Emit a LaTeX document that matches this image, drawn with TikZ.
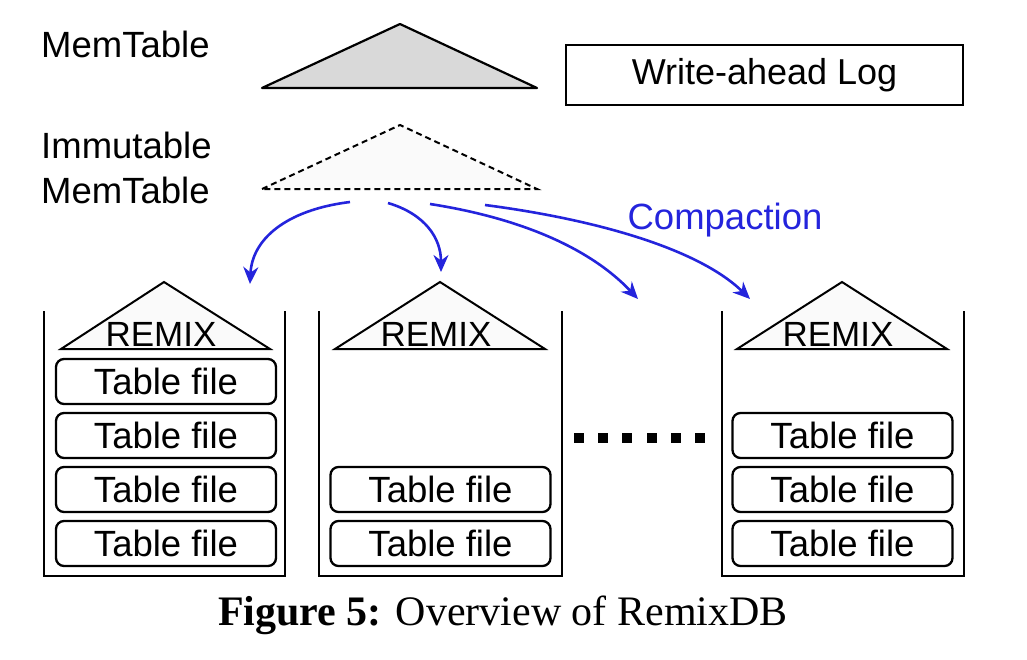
\documentclass[tikz,border=0pt]{standalone}
\usepackage{fontspec}
\setmainfont{Liberation Sans}
\newfontfamily\capfont{Liberation Serif}
\usepackage{tikz}
\usetikzlibrary{arrows.meta}
\definecolor{ink}{HTML}{000000}
\definecolor{memgray}{HTML}{D9D9D9}
\definecolor{imgray}{HTML}{FAFAFA}
\definecolor{compblue}{HTML}{2424DC}
\tikzset{
  lab/.style={text=ink, font=\fontsize{36.5}{45}\selectfont, inner sep=0pt},
  memtri/.style={draw=ink, fill=memgray, line width=2.2pt, line join=round},
  imtri/.style={draw=ink, fill=imgray, line width=2pt, dash pattern=on 6pt off 4pt},
  remixtri/.style={draw=ink, fill=imgray, line width=2pt, line join=miter},
  bin/.style={draw=ink, line width=2.4pt},
  tfile/.style={draw=ink, line width=2.3pt, rounded corners=8pt, minimum width=220pt,
    minimum height=45pt, inner sep=0pt, font=\fontsize{36.5}{45}\selectfont},
  walbox/.style={draw=ink, line width=2pt, minimum width=397pt, minimum height=60pt,
    inner sep=0pt, font=\fontsize{36}{45}\selectfont},
  comp/.style={draw=compblue, line width=2.6pt, -{Stealth[length=17pt,width=15pt]}},
  gapdot/.style={fill=ink},
}

\begin{document}
\begin{tikzpicture}[x=1pt,y=-1pt]
  \useasboundingbox (0,0) rectangle (1027,659);
  % memtables
  \node[lab, anchor=west] (mtlab) at (41,44) {MemTable};
  \node[lab, anchor=west, align=left] (imlab) at (41,168) {Immutable\\MemTable};
  \draw[memtri] (262,88) -- (400,24) -- (537,88) -- cycle;
  \draw[imtri] (262,189) -- (400,125) -- (537,189) -- cycle;
  \node[walbox] (wal) at (764.5,75) {Write-ahead Log};
  % compaction arrows
  \coordinate (c1s) at (350,202);
  \coordinate (c1e) at (250,284);
  \coordinate (c2s) at (388,203);
  \coordinate (c2e) at (441,272);
  \coordinate (c3s) at (430,204);
  \coordinate (c3e) at (638,299);
  \coordinate (c4s) at (485,205);
  \coordinate (c4e) at (750,299);
  \draw[comp] (c1s) .. controls (285,210) and (252,240) .. (c1e);
  \draw[comp] (c2s) .. controls (425,214) and (441,238) .. (c2e);
  \draw[comp] (c3s) .. controls (520,218) and (590,248) .. (c3e);
  \draw[comp] (c4s) .. controls (600,220) and (700,250) .. (c4e);
  \node[lab, text=compblue] (complab) at (725,220) {Compaction};
  % bins
  \draw[bin] (44,311) |- (285,576) -- (285,311);
  \draw[bin] (319,311) |- (562,576) -- (562,311);
  \draw[bin] (722,311) |- (964,576) -- (964,311);
  \draw[remixtri] (61,349) -- (164,282) -- (270,349) -- cycle;
  \draw[remixtri] (335,349) -- (440,282) -- (545,349) -- cycle;
  \draw[remixtri] (737,349) -- (842,282) -- (947,349) -- cycle;
  \node[lab, anchor=base, font=\fontsize{35}{45}\selectfont] (rx1) at (161,346) {REMIX};
  \node[lab, anchor=base, font=\fontsize{35}{45}\selectfont] (rx2) at (436,346) {REMIX};
  \node[lab, anchor=base, font=\fontsize{35}{45}\selectfont] (rx3) at (838,346) {REMIX};
  \foreach \y [count=\i] in {381.5,435.5,489.5,543.5}
    \node[tfile] (tfa\i) at (166,\y) {Table file};
  \foreach \y [count=\i] in {489.5,543.5}
    \node[tfile] (tfb\i) at (440.5,\y) {Table file};
  \foreach \y [count=\i] in {435.5,489.5,543.5}
    \node[tfile] (tfc\i) at (842.5,\y) {Table file};
  \foreach \i in {0,...,5}
    \fill[gapdot] ({574+24.2*\i},432.5) rectangle ++(10,10);
  % caption
  \node[inner sep=0pt, font=\capfont\fontsize{42}{50}\selectfont] (cap) at (503,615)
    {\textbf{Figure 5:} Overview of RemixDB};
\end{tikzpicture}
\end{document}
